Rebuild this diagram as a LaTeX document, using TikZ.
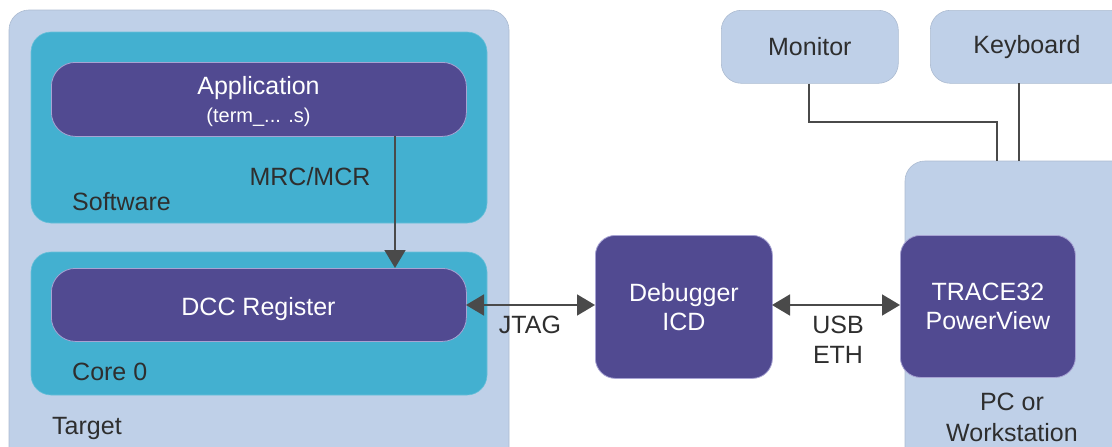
\documentclass[tikz,border=0pt]{standalone}
\usepackage{fontspec}
\setmainfont{Liberation Sans}
\usetikzlibrary{arrows.meta}
\definecolor{lightbg}{HTML}{BFD0E8}
\definecolor{teal}{HTML}{43B0D0}
\definecolor{purp}{HTML}{514A91}
\definecolor{purpedge}{HTML}{A7A3D3}
\definecolor{txt}{HTML}{2E2E2E}
\definecolor{arr}{HTML}{4A4A4A}
\tikzset{
  outerbox/.style={fill=lightbg, draw=lightbg!90!black, line width=0.6pt, rounded corners=20pt},
  tealbox/.style={fill=teal, draw=teal!80!white, line width=0.6pt, rounded corners=20pt},
  purpbox/.style={fill=purp, draw=purpedge, line width=0.8pt, rounded corners=24pt},
  wtext/.style={text=white, font=\fontsize{25}{29}\selectfont, align=center},
  dtext/.style={text=txt, font=\fontsize{25}{30}\selectfont, align=center, inner sep=0pt},
  conn/.style={draw=arr, line width=1.8pt},
  tip/.style={-{Triangle[length=18pt,width=21pt]}},
  dtip/.style={{Triangle[length=18pt,width=21pt]}-{Triangle[length=18pt,width=21pt]}},
}
\begin{document}
\begin{tikzpicture}[x=1pt,y=-1pt]
\useasboundingbox (0,0) rectangle (1112,447);
\clip (0,0) rectangle (1112,447);
% Target
\draw[outerbox] (9,10) rectangle (509,470);
\node[dtext, anchor=base west] (target) at (52,434) {Target};
% Software
\draw[tealbox] (31,32) rectangle (487,223);
\node[dtext, anchor=base west] (sw) at (72,210) {Software};
\node[purpbox, minimum width=415pt, minimum height=74pt, anchor=north west] (app) at (51,62) {};
\node[wtext, anchor=base] at (258.5,94) {Application};
\node[text=white, font=\fontsize{20}{22}\selectfont, anchor=base] at (258.5,122) {(term\_... .s)};
% Core 0
\draw[tealbox] (31,252) rectangle (487,395);
\node[dtext, anchor=base west] (core) at (72,380) {Core 0};
\node[purpbox, minimum width=415pt, minimum height=73pt, anchor=north west] (dcc) at (51,268) {};
\node[wtext, anchor=base] at (258.5,315) {DCC Register};
% MRC arrow
\coordinate (a1) at (395,136);
\coordinate (a2) at (395,268);
\draw[conn, tip] (a1) -- (a2);
\node[dtext, anchor=base] (mrc) at (310,185) {MRC/MCR};
% Debugger
\node[purpbox, rounded corners=20pt, minimum width=177pt, minimum height=143pt, anchor=north west] (dbg) at (595,235) {};
\node[wtext] at (dbg.center) {Debugger\\ICD};
% PC box
\draw[outerbox] (905,161) rectangle (1140,470);
\node[dtext, anchor=base] (pc) at (1012,410) {PC or};
\node[dtext, anchor=base] (ws) at (1012,441) {Workstation};
\node[purpbox, rounded corners=20pt, minimum width=175pt, minimum height=142pt, anchor=north west] (tr) at (900,235) {};
\node[wtext] at (tr.center) {TRACE32\\PowerView};
% Monitor, Keyboard
\node[outerbox, minimum width=177pt, minimum height=73pt, anchor=north west] (mon) at (721,10) {};
\node[dtext] at (mon.center) {Monitor};
\node[outerbox, minimum width=200pt, minimum height=73pt, anchor=north west] (kb) at (930,10) {};
\node[dtext] at (1027,47) {Keyboard};
% lines
\draw[draw=arr, line width=1.6pt] (mon.south -| 809,0) -- (809,122) -- (997,122) -- (997,161);
\draw[draw=arr, line width=1.6pt] (1019,83) -- (1019,161);
% JTAG
\coordinate (j1) at (466,305);
\coordinate (j2) at (595,305);
\draw[conn, dtip] (j1) -- (j2);
\node[dtext, anchor=base] (jtag) at (530,333) {JTAG};
% USB
\coordinate (u1) at (772,305);
\coordinate (u2) at (900,305);
\draw[conn, dtip] (u1) -- (u2);
\node[dtext, anchor=base] (usb) at (838,333) {USB};
\node[dtext, anchor=base] (eth) at (838,363) {ETH};
\end{tikzpicture}
\end{document}
